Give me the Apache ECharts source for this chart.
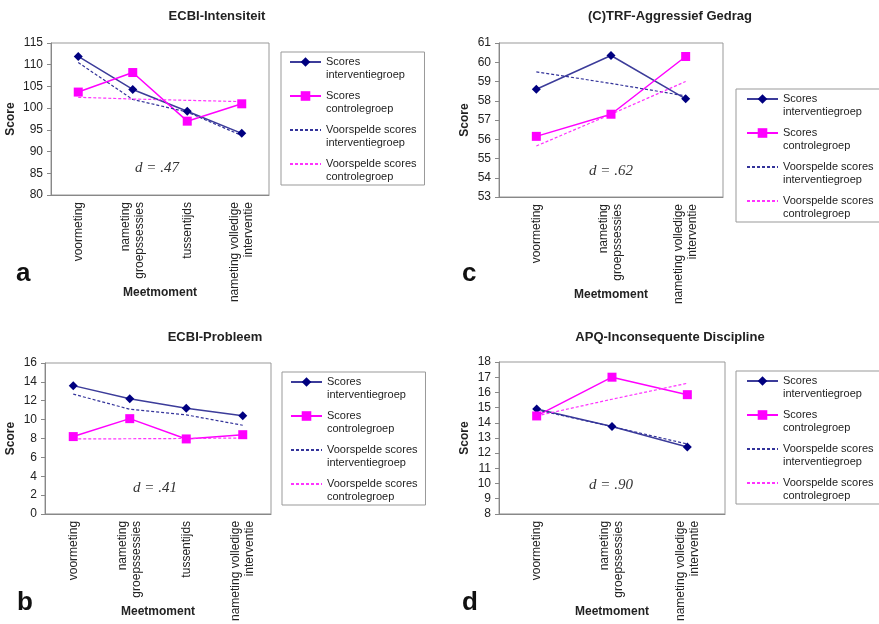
<!DOCTYPE html>
<html>
<head>
<meta charset="utf-8">
<script src="https://cdn.jsdelivr.net/npm/echarts@6/dist/echarts.min.js"></script>
<style>
    html, body { margin: 0; padding: 0; background: #ffffff; }
    #chart { width: 879px; height: 624px; }
</style>
</head>
<body>
<div id="chart"></div>
<script>
// meetmomenten
var cat4 = ["voormeting", "nameting\ngroepssessies", "tussentijds", "nameting volledige\ninterventie"];
var cat3 = ["voormeting", "nameting\ngroepssessies", "nameting volledige\ninterventie"];

var seriesNames = ["Scores interventiegroep", "Scores controlegroep", "Voorspelde scores interventiegroep", "Voorspelde scores controlegroep"];

// a: ECBI-Intensiteit
var aInterv = [111.9, 104.3, 99.3, 94.2];
var aControl = [103.7, 108.2, 97.0, 101.0];
var aPredInterv = [110.5, 102.0, 99.1, 93.7];
var aPredControl = [102.5, 102.1, 101.8, 101.5];

// c: (C)TRF-Aggressief Gedrag
var cInterv = [58.6, 60.35, 58.1];
var cControl = [56.15, 57.3, 60.3];
var cPredInterv = [59.5, 58.9, 58.25];
var cPredControl = [55.65, 57.3, 59.0];

// b: ECBI-Probleem
var bInterv = [13.6, 12.2, 11.2, 10.4];
var bControl = [8.2, 10.1, 7.95, 8.4];
var bPredInterv = [12.7, 11.1, 10.5, 9.4];
var bPredControl = [7.95, 7.97, 8.0, 8.05];

// d: APQ-Inconsequente Discipline
var dInterv = [14.9, 13.75, 12.4];
var dControl = [14.45, 17.0, 15.85];
var dPredInterv = [14.85, 13.75, 12.6];
var dPredControl = [14.45, 15.55, 16.6];

var FONT = "Liberation Sans, Arial, sans-serif";

function makeSeries(idx, interv, control, predInterv, predControl) {
    return [
        {
            name: seriesNames[0], type: "line", xAxisIndex: idx, yAxisIndex: idx,
            data: interv, symbol: "diamond", symbolSize: 9,
            itemStyle: { color: "#000080" },
            lineStyle: { color: "#3c3c9a", width: 1.5 }
        },
        {
            name: seriesNames[1], type: "line", xAxisIndex: idx, yAxisIndex: idx,
            data: control, symbol: "rect", symbolSize: 9,
            itemStyle: { color: "#ff00ff" },
            lineStyle: { color: "#ff00ff", width: 1.5 }
        },
        {
            name: seriesNames[2], type: "line", xAxisIndex: idx, yAxisIndex: idx,
            data: predInterv, symbol: "none",
            itemStyle: { color: "#33339a" },
            lineStyle: { color: "#33339a", width: 1.2, type: [3, 2] }
        },
        {
            name: seriesNames[3], type: "line", xAxisIndex: idx, yAxisIndex: idx,
            data: predControl, symbol: "none",
            itemStyle: { color: "#ff33ff" },
            lineStyle: { color: "#ff33ff", width: 1.2, type: [3, 2] }
        }
    ];
}

function makeX(idx, cats) {
    return {
        type: "category", gridIndex: idx, data: cats,
        name: "Meetmoment", nameLocation: "middle", nameGap: 92, nameMoveOverlap: false,
        nameTextStyle: { fontFamily: FONT, fontWeight: "bold", fontSize: 12, color: "#222" },
        axisLine: { lineStyle: { color: "#888" } },
        axisTick: { length: 4, lineStyle: { color: "#888" } },
        axisLabel: {
            interval: 0, rotate: 90, margin: 7, hideOverlap: false,
            fontFamily: FONT, fontSize: 12, lineHeight: 14, color: "#222"
        }
    };
}

function makeY(idx, min, max, step, nameGap) {
    return {
        type: "value", gridIndex: idx, min: min, max: max, interval: step,
        name: "Score", nameLocation: "middle", nameGap: nameGap, nameMoveOverlap: false,
        nameTextStyle: { fontFamily: FONT, fontWeight: "bold", fontSize: 12, color: "#222" },
        axisLine: { show: true, lineStyle: { color: "#888" } },
        axisTick: { show: true, length: 4, lineStyle: { color: "#888" } },
        axisLabel: { fontFamily: FONT, fontSize: 12, color: "#222", margin: 8 },
        splitLine: { show: false }
    };
}

// gestippelde reeksen zonder symbool in de legenda
var noSymbol = { color: "rgba(0,0,0,0)", borderColor: "rgba(0,0,0,0)", borderWidth: 0 };

function makeLegend(left, top, padding) {
    return {
        orient: "vertical", left: left, top: top,
        data: [
            { name: seriesNames[0] },
            { name: seriesNames[1] },
            { name: seriesNames[2], itemStyle: noSymbol },
            { name: seriesNames[3], itemStyle: noSymbol }
        ],
        selectedMode: false,
        itemWidth: 31, itemHeight: 12, itemGap: -5,
        padding: padding,
        borderColor: "#999", borderWidth: 1,
        textStyle: { fontFamily: FONT, fontSize: 11, lineHeight: 13, color: "#222" },
        formatter: function (name) {
            // tweeregelig, icoon op hoogte van de eerste regel
            var parts = name.split(" ");
            var last = parts.pop();
            return "\n" + parts.join(" ") + "\n" + last;
        }
    };
}

function titleAt(text, x, y) {
    return {
        text: text, left: x, top: y, textAlign: "center",
        textStyle: { fontFamily: FONT, fontWeight: "bold", fontSize: 13, color: "#222" }
    };
}

function letterAt(txt, x, y) {
    return {
        type: "text", left: x, top: y,
        style: { text: txt, fontFamily: FONT, fontWeight: "bold", fontSize: 26, fill: "#111" }
    };
}

function effectAt(txt, x, y) {
    return {
        type: "text", x: x, y: y,
        style: {
            text: txt, align: "center", verticalAlign: "middle",
            fontFamily: "Liberation Serif, Times New Roman, serif", fontStyle: "italic",
            fontSize: 15, fill: "#333"
        }
    };
}

var myChart = echarts.init(document.getElementById("chart"));

var option = {
    animation: false,
    backgroundColor: "#ffffff",
    title: [
        titleAt("ECBI-Intensiteit", 212, 5),
        titleAt("(C)TRF-Aggressief Gedrag", 665, 5),
        titleAt("ECBI-Probleem", 210, 326),
        titleAt("APQ-Inconsequente Discipline", 665, 326)
    ],
    grid: [
        { left: 51, top: 43, width: 218, height: 152, show: true, borderColor: "#999" },
        { left: 499, top: 43, width: 224, height: 154, show: true, borderColor: "#999" },
        { left: 45, top: 363, width: 226, height: 152, show: true, borderColor: "#999" },
        { left: 499, top: 362, width: 226, height: 153, show: true, borderColor: "#999" }
    ],
    xAxis: [
        makeX(0, cat4),
        makeX(1, cat3),
        makeX(2, cat4),
        makeX(3, cat3)
    ],
    yAxis: [
        makeY(0, 80, 115, 5, 34),
        makeY(1, 53, 61, 1, 28),
        makeY(2, 0, 16, 2, 28),
        makeY(3, 8, 18, 1, 28)
    ],
    legend: [
        makeLegend(281, 52, [-9.5, 8, 1.5, 8]),
        makeLegend(736, 89, [-9.5, 12, 1.5, 10]),
        makeLegend(282, 372, [-9.5, 8, 1.5, 8]),
        makeLegend(736, 371, [-9.5, 12, 1.5, 10])
    ],
    graphic: [
        letterAt("a", 16, 261),
        letterAt("c", 462, 261),
        letterAt("b", 17, 590),
        letterAt("d", 462, 590),
        effectAt("d = .47", 157, 168),
        effectAt("d = .62", 611, 171),
        effectAt("d = .41", 155, 488),
        effectAt("d = .90", 611, 485)
    ],
    series: [].concat(
        makeSeries(0, aInterv, aControl, aPredInterv, aPredControl),
        makeSeries(1, cInterv, cControl, cPredInterv, cPredControl),
        makeSeries(2, bInterv, bControl, bPredInterv, bPredControl),
        makeSeries(3, dInterv, dControl, dPredInterv, dPredControl)
    )
};

myChart.setOption(option);
window.addEventListener("resize", function () {
    myChart.resize();
});
</script>
</body>
</html>
